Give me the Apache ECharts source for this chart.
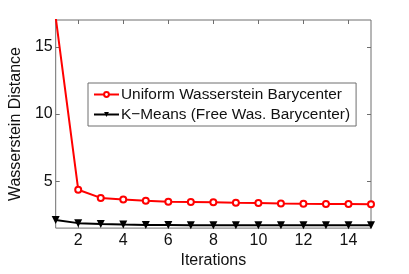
<!DOCTYPE html>
<html><head><meta charset="utf-8">
<script src="https://cdn.jsdelivr.net/npm/echarts@6/dist/echarts.min.js"></script>
<style>html,body{margin:0;padding:0;background:#fff}#c{width:409px;height:274px}</style>
</head><body><div id="c"></div>
<script>
var iterations = [1,2,3,4,5,6,7,8,9,10,11,12,13,14,15];
var uniformWB = [17.2,4.36,3.75,3.63,3.53,3.46,3.44,3.42,3.38,3.37,3.33,3.31,3.30,3.30,3.27];
var kMeans = [2.11,1.87,1.80,1.76,1.74,1.73,1.72,1.72,1.72,1.72,1.72,1.72,1.72,1.72,1.72];
var xTicks = [2,4,6,8,10,12,14];
var yTicks = [5,10,15];
var names = ['Uniform Wasserstein Barycenter','K\u2212Means (Free Was. Barycenter)'];

var chart = echarts.init(document.getElementById('c'), null, {renderer:'canvas'});
var font = 'Liberation Sans, Arial, sans-serif';
var axisCol = '#6e6e6e';
var fs = 16;
var gridDef = {left:53, right:38, top:20, bottom:36, show:true, borderColor:axisCol, borderWidth:1, backgroundColor:'#fff'};
function xa(pos, labels){
  return {type:'value', position:pos, min:1, max:15, interval:1,
    axisLine:{show:false}, splitLine:{show:false},
    axisTick:{show:true, inside:true, length:4, lineStyle:{color:axisCol},
      customValues: xTicks},
    axisLabel:{show:labels, color:'#111', fontSize:fs, fontFamily:font, margin:4,
      customValues: xTicks},
    name: labels ? 'Iterations' : '', nameLocation:'middle', nameGap:19,
    nameTextStyle:{color:'#111', fontSize:fs, fontFamily:font}};
}
function ya(pos, labels){
  return {type:'value', position:pos, min:1.5, max:17,
    axisLine:{show:false}, splitLine:{show:false},
    axisTick:{show:true, inside:true, length:4, lineStyle:{color:axisCol}, customValues: yTicks},
    axisLabel:{show:labels, color:'#111', fontSize:fs, fontFamily:font, margin:3, customValues: yTicks},
    name: labels ? 'Wasserstein Distance' : '', nameLocation:'middle', nameGap:24,
    nameTextStyle:{color:'#111', fontSize:fs, fontFamily:font}};
}
chart.setOption({
  animation:false,
  grid: gridDef,
  xAxis:[xa('bottom', true), xa('top', false)],
  yAxis:[ya('left', true), ya('right', false)],
  legend:{
    left:88, top:83, orient:'vertical', itemGap:5, padding:[4,6,4,5],
    borderColor:axisCol, borderWidth:1, backgroundColor:'#fff',
    itemWidth:25, itemHeight:6,
    textStyle:{color:'#111', fontSize:15.4, fontFamily:font, padding:[0,0,0,-3]},
    data:[{name:names[0]},{name:names[1]}]
  },
  series:[
    {name:names[0], type:'line', xAxisIndex:0, yAxisIndex:0, clip:true,
     data: iterations.map(function(x,i){return [x, uniformWB[i]];}),
     lineStyle:{color:'#ff0000', width:2}, itemStyle:{color:'#ff0000', borderColor:'#ff0000', borderWidth:1.5},
     symbol:'emptyCircle', symbolSize:6, z:3},
    {name:names[1], type:'line', xAxisIndex:0, yAxisIndex:0, clip:true,
     data: iterations.map(function(x,i){return [x, kMeans[i]];}),
     lineStyle:{color:'#000', width:2}, itemStyle:{color:'#000'},
     symbol:'triangle', symbolRotate:180, symbolSize:8, z:3}
  ]
});
</script></body></html>
